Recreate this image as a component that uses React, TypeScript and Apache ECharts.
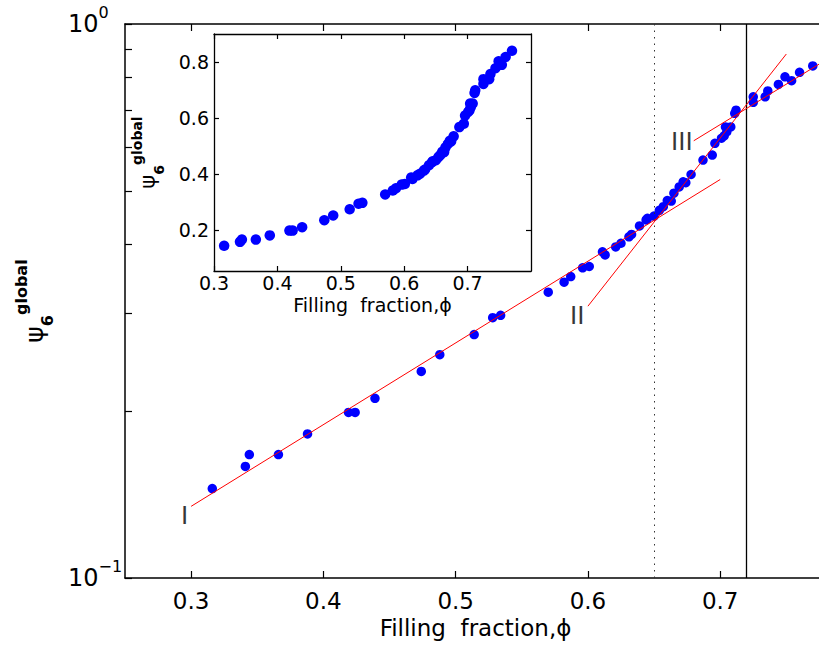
import React, { useEffect, useRef } from 'react';
import * as echarts from 'echarts';

// Measured points: filling fraction phi and global order parameter psi6
const PHI = [
  0.316, 0.341, 0.344, 0.366, 0.388, 0.419, 0.424, 0.439, 0.474, 0.488,
  0.514, 0.528, 0.534, 0.570, 0.582, 0.587, 0.596, 0.601, 0.611, 0.613,
  0.621, 0.625, 0.631, 0.633, 0.639, 0.644, 0.645, 0.650, 0.654, 0.657,
  0.660, 0.663, 0.665, 0.669, 0.672, 0.674, 0.678, 0.687, 0.694, 0.696,
  0.701, 0.703, 0.705, 0.704, 0.708, 0.711, 0.712, 0.725, 0.725, 0.734,
  0.736, 0.744, 0.749, 0.754, 0.760, 0.770,
];
const PSI = [
  0.145, 0.159, 0.167, 0.167, 0.182, 0.199, 0.199, 0.211, 0.236, 0.253,
  0.275, 0.295, 0.298, 0.328, 0.342, 0.350, 0.363, 0.365, 0.388, 0.383,
  0.396, 0.402, 0.413, 0.417, 0.432, 0.443, 0.446, 0.450, 0.461, 0.468,
  0.480, 0.479, 0.495, 0.508, 0.519, 0.517, 0.535, 0.568, 0.580, 0.609,
  0.622, 0.628, 0.639, 0.652, 0.652, 0.690, 0.699, 0.722, 0.739, 0.739,
  0.757, 0.778, 0.803, 0.790, 0.818, 0.840,
];

// Fitted exponential regimes (end points)
const FIT_I_PHI = [0.30, 0.70];
const FIT_I_PSI = [0.1347, 0.524];
const FIT_II_PHI = [0.60, 0.75];
const FIT_II_PSI = [0.3095, 0.8827];
const FIT_III_PHI = [0.68, 0.78];
const FIT_III_PSI = [0.6155, 0.8614];

// Vertical reference lines
const PHI_DOTTED = 0.6513;
const PHI_SOLID = 0.7184;

// Regime labels
const REGIME_NAMES = ['I', 'II', 'III'];
const REGIME_PHI = [0.295, 0.592, 0.671];
const REGIME_PSI = [0.1297, 0.298, 0.6145];

// Axes
const MAIN_X_RANGE = [0.25, 0.78];
const MAIN_Y_RANGE = [0.1, 1];
const MAIN_X_TICKS = [0.3, 0.4, 0.5, 0.6, 0.7];
const MAIN_Y_TICKS = [0.1, 0.2, 0.3, 0.4, 0.5, 0.6, 0.7, 0.8, 0.9, 1];
const MAIN_Y_LABELS = [0.1, 1];
const INSET_X_RANGE = [0.3, 0.8];
const INSET_Y_RANGE = [0.055, 0.9];
const INSET_X_TICKS = [0.3, 0.4, 0.5, 0.6, 0.7];
const INSET_Y_TICKS = [0.2, 0.4, 0.6, 0.8];

const X_TITLE = 'Filling\u00a0 fraction,\u03d5';
const Y_TITLE = '{p|\u03c8}{sub|6}{sup|global}';

const FONT = 'DejaVu Sans';

export default function App() {
  const ref = useRef<HTMLDivElement>(null);

  useEffect(() => {
    if (!ref.current) return;
    const chart = echarts.init(ref.current, null, { renderer: 'svg' });

    const points = PHI.map((p, i) => [p, PSI[i]]);
    const pair = (xs: number[], ys: number[]) => xs.map((x, i) => [x, ys[i]]);
    const black = '#000';
    const tickStyle = { color: black, width: 1.2 };

    const fitSeries = (data: number[][]) => ({
      type: 'line',
      xAxisIndex: 0,
      yAxisIndex: 0,
      data,
      symbol: 'none',
      showSymbol: false,
      silent: true,
      z: 5,
      lineStyle: { color: '#ff0000', width: 1 },
    });

    const yTitleStyle = (big: number, small: number, lh: number) => ({
      fontSize: small,
      fontWeight: 'bold',
      fontFamily: FONT,
      color: black,
      rich: {
        p: { fontSize: big, fontWeight: 'normal', fontFamily: FONT, color: black, lineHeight: lh, verticalAlign: 'middle' },
        sub: { fontSize: small, fontWeight: 'bold', fontFamily: FONT, color: black, lineHeight: small, verticalAlign: 'bottom' },
        sup: { fontSize: small, fontWeight: 'bold', fontFamily: FONT, color: black, lineHeight: small, verticalAlign: 'top' },
      },
    });

    const option: any = {
      animation: false,
      backgroundColor: '#fff',
      grid: [
        { left: 125, top: 24, width: 701, height: 554, show: false, containLabel: false, outerBoundsMode: 'none' },
        {
          left: 214, top: 34, width: 317, height: 237, show: true, containLabel: false, outerBoundsMode: 'none',
          backgroundColor: '#fff', borderColor: black, borderWidth: 0,
        },
      ],
      xAxis: [
        {
          type: 'value', gridIndex: 0, position: 'bottom',
          min: MAIN_X_RANGE[0], max: MAIN_X_RANGE[1],
          axisLine: { show: true, onZero: false, lineStyle: { color: black, width: 1.5 } },
          axisTick: { show: true, inside: true, length: 7, customValues: MAIN_X_TICKS, lineStyle: tickStyle },
          axisLabel: {
            show: true, customValues: MAIN_X_TICKS, margin: 11, fontSize: 23,
            fontFamily: FONT, color: black, formatter: (v: number) => v.toFixed(1),
          },
          splitLine: { show: false },
          name: X_TITLE, nameLocation: 'middle', nameGap: 31,
          nameTextStyle: { fontSize: 23, fontFamily: FONT, color: black },
        },
        {
          type: 'value', gridIndex: 0, position: 'top',
          min: MAIN_X_RANGE[0], max: MAIN_X_RANGE[1],
          axisLine: { show: true, onZero: false, lineStyle: { color: black, width: 1.5 } },
          axisTick: { show: true, inside: true, length: 7, customValues: MAIN_X_TICKS, lineStyle: tickStyle },
          axisLabel: { show: false },
          splitLine: { show: false },
        },
        {
          type: 'value', gridIndex: 1, position: 'bottom',
          min: INSET_X_RANGE[0], max: INSET_X_RANGE[1],
          axisLine: { show: true, onZero: false, lineStyle: { color: black, width: 1.3 } },
          axisTick: { show: true, inside: true, length: 5, customValues: INSET_X_TICKS, lineStyle: tickStyle },
          axisLabel: {
            show: true, customValues: INSET_X_TICKS, margin: 2, fontSize: 19,
            fontFamily: FONT, color: black, formatter: (v: number) => v.toFixed(1),
          },
          splitLine: { show: false },
          name: X_TITLE, nameLocation: 'middle', nameGap: 24,
          nameTextStyle: { fontSize: 19, fontFamily: FONT, color: black },
        },
        {
          type: 'value', gridIndex: 1, position: 'top',
          min: INSET_X_RANGE[0], max: INSET_X_RANGE[1],
          axisLine: { show: true, onZero: false, lineStyle: { color: black, width: 1.3 } },
          axisTick: { show: true, inside: true, length: 5, customValues: INSET_X_TICKS, lineStyle: tickStyle },
          axisLabel: { show: false },
          splitLine: { show: false },
        },
      ],
      yAxis: [
        {
          type: 'log', logBase: 10, gridIndex: 0, position: 'left',
          min: MAIN_Y_RANGE[0], max: MAIN_Y_RANGE[1],
          axisLine: { show: true, onZero: false, lineStyle: { color: black, width: 1.5 } },
          axisTick: { show: true, inside: true, length: 7, customValues: MAIN_Y_TICKS, lineStyle: tickStyle },
          axisLabel: {
            show: true, customValues: MAIN_Y_LABELS, margin: 57, align: 'left',
            formatter: (v: number) => (v > 0.5 ? '{b|10}{s|0}' : '{b|10}{s|\u22121}'),
            rich: {
              b: { fontSize: 24, fontFamily: FONT, color: black, lineHeight: 40, verticalAlign: 'middle' },
              s: { fontSize: 16, fontFamily: FONT, color: black, lineHeight: 14, verticalAlign: 'top' },
            },
          },
          splitLine: { show: false },
          name: Y_TITLE, nameLocation: 'middle', nameRotate: 90, nameGap: 70,
          nameTextStyle: yTitleStyle(25, 16, 42),
        },
        {
          type: 'value', gridIndex: 1, position: 'left',
          min: INSET_Y_RANGE[0], max: INSET_Y_RANGE[1],
          axisLine: { show: true, onZero: false, lineStyle: { color: black, width: 1.3 } },
          axisTick: { show: true, inside: true, length: 5, customValues: INSET_Y_TICKS, lineStyle: tickStyle },
          axisLabel: {
            show: true, customValues: INSET_Y_TICKS, margin: 5, fontSize: 19,
            fontFamily: FONT, color: black, formatter: (v: number) => v.toFixed(1),
          },
          splitLine: { show: false },
          name: Y_TITLE, nameLocation: 'middle', nameRotate: 90, nameGap: 48,
          nameTextStyle: yTitleStyle(21, 14, 36),
        },
        {
          type: 'value', gridIndex: 1, position: 'right',
          min: INSET_Y_RANGE[0], max: INSET_Y_RANGE[1],
          axisLine: { show: true, onZero: false, lineStyle: { color: black, width: 1.3 } },
          axisTick: { show: true, inside: true, length: 5, customValues: INSET_Y_TICKS, lineStyle: tickStyle },
          axisLabel: { show: false },
          splitLine: { show: false },
        },
      ],
      series: [
        {
          type: 'scatter',
          xAxisIndex: 0,
          yAxisIndex: 0,
          data: points,
          symbol: 'circle',
          symbolSize: 9.5,
          silent: true,
          z: 3,
          itemStyle: { color: '#0000ff', opacity: 1 },
          markLine: {
            silent: true,
            symbol: ['none', 'none'],
            label: { show: false },
            data: [
              { xAxis: PHI_SOLID, lineStyle: { color: black, width: 1.3, type: 'solid' } },
              { xAxis: PHI_DOTTED, lineStyle: { color: '#333', width: 1, type: [1.5, 5] } },
            ],
          },
        },
        fitSeries(pair(FIT_I_PHI, FIT_I_PSI)),
        fitSeries(pair(FIT_II_PHI, FIT_II_PSI)),
        fitSeries(pair(FIT_III_PHI, FIT_III_PSI)),
        {
          type: 'scatter',
          xAxisIndex: 0,
          yAxisIndex: 0,
          data: REGIME_NAMES.map((n, i) => ({ name: n, value: [REGIME_PHI[i], REGIME_PSI[i]] })),
          symbolSize: 1,
          silent: true,
          itemStyle: { color: 'rgba(0,0,0,0)' },
          label: {
            show: true, position: 'inside', formatter: '{b}',
            fontSize: 26, fontFamily: 'Liberation Sans', color: black,
          },
          z: 6,
        },
        {
          type: 'scatter',
          xAxisIndex: 2,
          yAxisIndex: 1,
          data: points,
          symbol: 'circle',
          symbolSize: 10.5,
          silent: true,
          itemStyle: { color: '#0000ff', opacity: 1 },
        },
      ],
    };

    chart.setOption(option);
    return () => chart.dispose();
  }, []);

  return (
    <div
      ref={ref}
      style={{ position: 'fixed', left: 0, top: 0, width: 819, height: 648, background: '#fff' }}
    />
  );
}
